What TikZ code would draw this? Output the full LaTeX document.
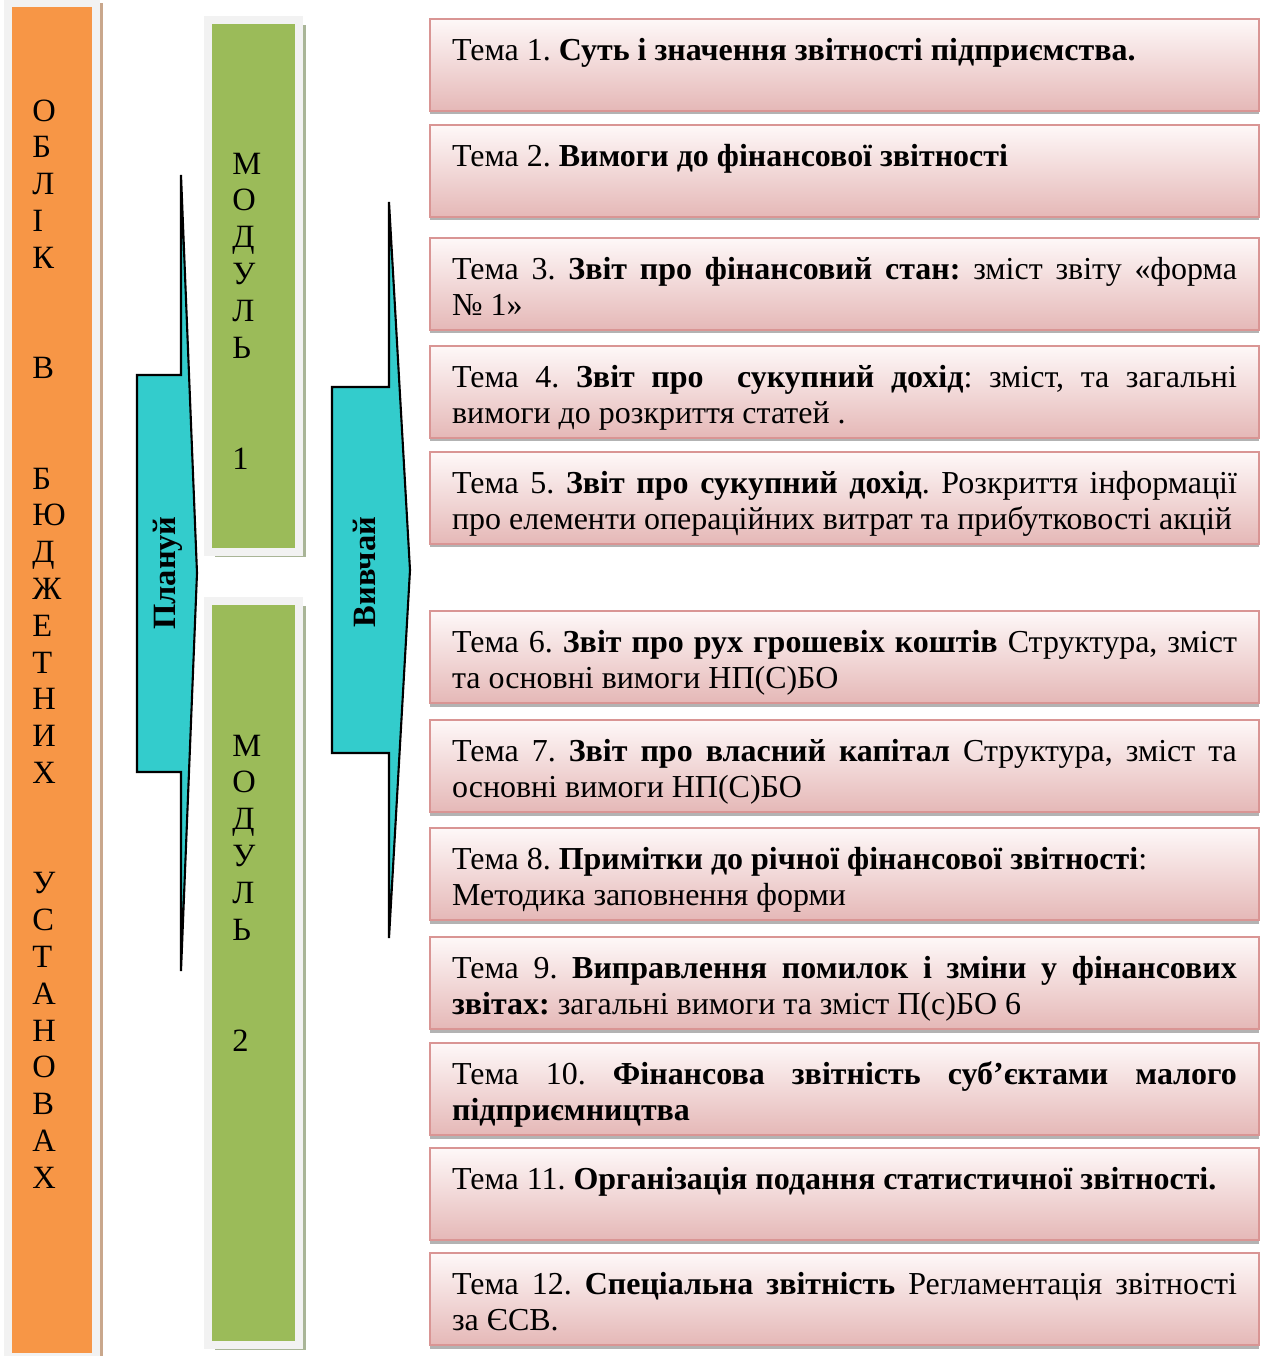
\documentclass[tikz,border=0pt]{standalone}
\usepackage{fontspec}
\setmainfont{Liberation Serif}
\usepackage{tikz}
\usetikzlibrary{shadows,positioning}
\definecolor{orng}{HTML}{F79646}
\definecolor{grn}{HTML}{9BBB59}
\definecolor{framegray}{HTML}{F2F2F2}
\definecolor{orshadow}{HTML}{C9A78C}
\definecolor{grshadow}{HTML}{A9B597}
\definecolor{cyanarr}{HTML}{33CCCC}
\definecolor{pinkline}{HTML}{D99594}
\definecolor{pinktop}{HTML}{FEF8F8}
\definecolor{pinkbot}{HTML}{E5B8B7}
\tikzstyle{bar}=[draw=framegray, line width=4.5pt, inner sep=0pt]
\tikzstyle{obl}=[bar, fill=orng, drop shadow={shadow xshift=0.14cm, shadow yshift=0cm, fill=orshadow, opacity=1}]
\tikzstyle{modul}=[bar, fill=grn, drop shadow={shadow xshift=0.14cm, shadow yshift=-0.1cm, fill=grshadow, opacity=1}]
\tikzstyle{letter}=[anchor=base west, inner sep=0pt, font=\fontsize{18.5}{20}\selectfont]
\tikzstyle{strela}=[draw=black, line width=1.2pt, fill=cyanarr]
\tikzstyle{vert}=[rotate=90, inner sep=0pt, font=\bfseries\fontsize{18.5}{20}\selectfont]
\tikzstyle{tema}=[draw=pinkline, line width=1.2pt, top color=pinktop, bottom color=pinkbot, inner xsep=0.44cm, inner ysep=0.16cm, drop shadow={shadow xshift=0pt, shadow yshift=-0.07cm, fill=gray, opacity=.6}]
\newcommand{\tematext}[1]{\parbox[c][1.52cm][t]{15.7cm}{\fontsize{18.2}{21}\selectfont\frenchspacing\rule{0pt}{0.66cm}#1}}
\hyphenpenalty=10000
\exhyphenpenalty=10000
\begin{document}
\begin{tikzpicture}[x=0.02cm, y=-0.02cm]
	\useasboundingbox (0,0) rectangle (1270,1356);
	\clip (0,0) rectangle (1270,1356);
	% left bar and the two modules
	\node[obl, minimum width=1.76cm, minimum height=27.08cm] (oblik) at (52,680) {};
	\node[modul, minimum width=1.82cm, minimum height=10.64cm] (mod1) at (253.5,286) {};
	\node[modul, minimum width=1.82cm, minimum height=14.88cm] (mod2) at (253.5,973) {};
	% letters, one per line
	\foreach \ch/\n in {О/0,Б/1,Л/2,І/3,К/4,В/7,Б/10,Ю/11,Д/12,Ж/13,Е/14,Т/15,Н/16,И/17,Х/18,У/21,С/22,Т/23,А/24,Н/25,О/26,В/27,А/28,Х/29}{
		\node[letter] (ob\n) at (32,{121+36.8*\n}) {\ch};
	}
	\foreach \ch/\n in {М/0,О/1,Д/2,У/3,Л/4,Ь/5,1/8}{
		\node[letter] (ma\n) at (232,{174+36.9*\n}) {\ch};
	}
	\foreach \ch/\n in {М/0,О/1,Д/2,У/3,Л/4,Ь/5,2/8}{
		\node[letter] (mb\n) at (232,{756+36.9*\n}) {\ch};
	}
	% the two block arrows
	\draw[strela] (181,175) -- (197,573) -- (181,971) -- (181,772) -- (137,772) -- (137,375) -- (181,375) -- cycle;
	\draw[strela] (389,202) -- (410,570) -- (389,938) -- (389,753) -- (332,753) -- (332,387) -- (389,387) -- cycle;
	\node[vert] (plan) at (168,573) {Плануй};
	\node[vert] (vyvch) at (364,572) {Вивчай};
	% topics
	\node[tema] (t1) at (844.5,65) {\tematext{Тема 1. \textbf{Суть і значення звітності підприємства.}}};
	\node[tema] (t2) at (844.5,171) {\tematext{Тема 2. \textbf{Вимоги до фінансової звітності}}};
	\node[tema] (t3) at (844.5,284) {\tematext{Тема 3. \textbf{Звіт про фінансовий стан:} зміст звіту «форма\linebreak № 1»}};
	\node[tema] (t4) at (844.5,392) {\tematext{Тема 4. \textbf{Звіт про\ \ сукупний дохід}: зміст, та загальні\linebreak вимоги до розкриття статей .}};
	\node[tema] (t5) at (844.5,498) {\tematext{Тема 5. \textbf{Звіт про сукупний дохід}. Розкриття інформації\linebreak про елементи операційних витрат та прибутковості акцій}};
	\node[tema] (t6) at (844.5,657) {\tematext{Тема 6. \textbf{Звіт про рух грошевіх коштів} Структура, зміст\linebreak та основні вимоги НП(С)БО}};
	\node[tema] (t7) at (844.5,766) {\tematext{Тема 7. \textbf{Звіт про власний капітал} Структура, зміст та\linebreak основні вимоги НП(С)БО}};
	\node[tema] (t8) at (844.5,874) {\tematext{Тема 8. \textbf{Примітки до річної фінансової звітності}:\\ Методика заповнення форми}};
	\node[tema] (t9) at (844.5,983) {\tematext{Тема 9. \textbf{Виправлення помилок і зміни у фінансових\linebreak звітах:} загальні вимоги та зміст П(с)БО 6}};
	\node[tema] (t10) at (844.5,1089) {\tematext{Тема 10. \textbf{Фінансова звітність суб’єктами малого\linebreak підприємництва}}};
	\node[tema] (t11) at (844.5,1194) {\tematext{Тема 11. \textbf{Організація подання статистичної звітності.}}};
	\node[tema] (t12) at (844.5,1299) {\tematext{Тема 12. \textbf{Спеціальна звітність} Регламентація звітності\linebreak за ЄСВ.}};
\end{tikzpicture}
\end{document}
